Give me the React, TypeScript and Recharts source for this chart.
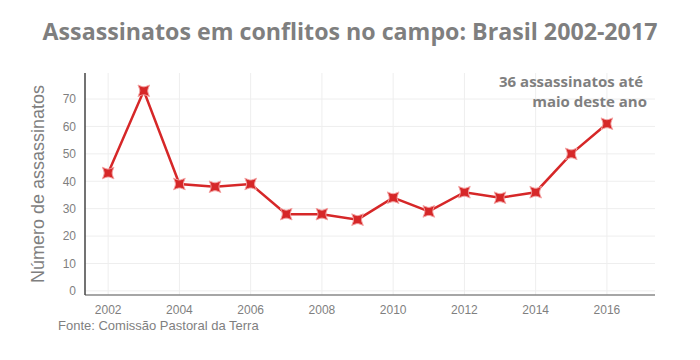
import { LineChart, Line, XAxis, YAxis, CartesianGrid } from "recharts";

const years = [2002, 2003, 2004, 2005, 2006, 2007, 2008, 2009, 2010, 2011, 2012, 2013, 2014, 2015, 2016];
const killings = [43, 73, 39, 38, 39, 28, 28, 26, 34, 29, 36, 34, 36, 50, 61];
const xTicks = [2002, 2004, 2006, 2008, 2010, 2012, 2014, 2016];
const yTicks = [0, 10, 20, 30, 40, 50, 60, 70];

const data = years.map((year, i) => ({ year, value: killings[i] }));

const RED = "#d62728";
const GREY = "#7f7f7f";

// plotly-like "star-square" marker
function StarSquare(props: any) {
  const { cx, cy } = props;
  if (cx == null || cy == null) return null;
  const rp = 5.8;
  const rc = 3.4;
  const d =
    `M${cx - rp},${cy - rp}` +
    `C${cx - rc},${cy} ${cx - rc},${cy} ${cx - rp},${cy + rp}` +
    `C${cx},${cy + rc} ${cx},${cy + rc} ${cx + rp},${cy + rp}` +
    `C${cx + rc},${cy} ${cx + rc},${cy} ${cx + rp},${cy - rp}` +
    `C${cx},${cy - rc} ${cx},${cy - rc} ${cx - rp},${cy - rp}Z`;
  return <path d={d} fill={RED} stroke="#f4a3a3" strokeWidth={1} />;
}

export default function App() {
  return (
    <div style={{ position: "absolute", left: 0, top: 0, width: 700, height: 360, background: "#fff", fontFamily: "'Liberation Sans', Arial, sans-serif" }}>
      <LineChart width={700} height={360} data={data} margin={{ top: 73, right: 45, left: 25, bottom: 35 }}>
        <CartesianGrid stroke="#eeeeee" verticalValues={xTicks} horizontalValues={yTicks} />
        <XAxis
          dataKey="year"
          type="number"
          domain={[2001.35, 2017.35]}
          ticks={xTicks}
          allowDataOverflow
          height={30}
          tickLine={false}
          axisLine={{ stroke: "#888", strokeWidth: 1.5 }}
          tick={{ fill: GREY, fontSize: 12, fontFamily: "'Liberation Sans', Arial, sans-serif" }}
          tickMargin={4}
        />
        <YAxis
          type="number"
          domain={[-1.5, 79.5]}
          ticks={yTicks}
          allowDataOverflow
          width={60}
          tickLine={false}
          axisLine={{ stroke: "#444", strokeWidth: 1.5 }}
          tick={{ fill: GREY, fontSize: 12, fontFamily: "'Liberation Sans', Arial, sans-serif" }}
          tickMargin={3}
        />
        <Line
          dataKey="value"
          stroke={RED}
          strokeWidth={2.5}
          dot={<StarSquare />}
          activeDot={false}
          isAnimationActive={false}
        />
      </LineChart>
      <div style={{ position: "absolute", left: 0, width: 700, top: 15, textAlign: "center", fontFamily: "'Open Sans', sans-serif", fontWeight: 700, fontSize: 23.2, color: GREY, whiteSpace: "nowrap" }}>
        Assassinatos em conflitos no campo: Brasil 2002-2017
      </div>
      <div style={{ position: "absolute", left: 38, top: 184, transform: "translate(-50%, -50%) rotate(-90deg)", fontSize: 18, color: GREY, whiteSpace: "nowrap" }}>
        Número de assassinatos
      </div>
      <div style={{ position: "absolute", right: 53, top: 71, textAlign: "right", fontFamily: "'Open Sans', sans-serif", fontWeight: 700, fontSize: 15, lineHeight: "20px", color: GREY, whiteSpace: "nowrap" }}>
        36 assassinatos até&nbsp;
        <br />
        maio deste ano
      </div>
      <div style={{ position: "absolute", left: 58, top: 318, fontSize: 13, color: GREY, whiteSpace: "nowrap" }}>
        Fonte: Comissão Pastoral da Terra
      </div>
    </div>
  );
}
